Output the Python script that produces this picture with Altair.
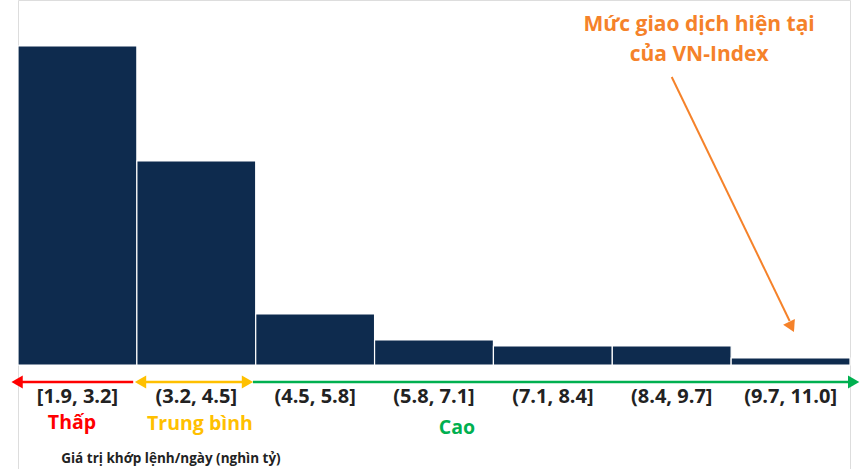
import altair as alt
import pandas as pd

# ---- data ----
bin_edges = [1.9, 3.2, 4.5, 5.8, 7.1, 8.4, 9.7, 11.0]
bin_labels = ["[1.9, 3.2]", "(3.2, 4.5]", "(4.5, 5.8]", "(5.8, 7.1]",
              "(7.1, 8.4]", "(8.4, 9.7]", "(9.7, 11.0]"]
bin_values = [319, 204, 51, 25, 19, 19, 7]

group_names = ["Thấp", "Trung bình", "Cao"]
group_colors = ["#ff0000", "#ffc000", "#00b050"]
group_x = [2.49, 3.89, 6.70]

annotation_lines = ["Mức giao dịch hiện tại", "của VN-Index"]
axis_title = "Giá trị khớp lệnh/ngày (nghìn tỷ)"

FONT = "Open Sans"
BAR_COLOR = "#0e2b4e"
ORANGE = "#f5822a"

xs = alt.Scale(domain=[1.9, 11.0], nice=False, zero=False)
ys = alt.Scale(domain=[-104, 365], nice=False, zero=False)

bars_df = pd.DataFrame({
    "x": bin_edges[:-1], "x2": bin_edges[1:], "v": bin_values, "label": bin_labels,
})
bars_df["mid"] = (bars_df["x"] + bars_df["x2"]) / 2
bars_df["zero"] = 0

bars = alt.Chart(bars_df).mark_rect(color=BAR_COLOR, stroke="white", strokeWidth=1.2).encode(
    x=alt.X("x:Q", scale=xs, axis=None), x2="x2:Q",
    y=alt.Y("v:Q", scale=ys, axis=None), y2="zero:Q",
)

labels = alt.Chart(bars_df).mark_text(
    font=FONT, fontSize=20, fontWeight="bold", color="#222222", baseline="middle"
).encode(
    x=alt.X("mid:Q", scale=xs), y=alt.datum(-32, scale=ys), text="label:N"
)

# arrows under the axis
shafts_df = pd.DataFrame({
    "x": [1.90, 3.26, 4.47], "x2": [3.16, 4.39, 11.03],
    "c": group_colors,
})
shafts = alt.Chart(shafts_df).mark_rule(strokeWidth=2.5).encode(
    x=alt.X("x:Q", scale=xs), x2="x2:Q",
    y=alt.datum(-17, scale=ys),
    color=alt.Color("c:N", scale=None),
)
heads_df = pd.DataFrame({
    "x": [1.89, 3.24, 4.41, 11.04],
    "shape": ["triangle-left", "triangle-left", "triangle-right", "triangle-right"],
    "c": [group_colors[0], group_colors[1], group_colors[1], group_colors[2]],
})
heads = alt.Chart(heads_df).mark_point(filled=True, size=170, opacity=1).encode(
    x=alt.X("x:Q", scale=xs), y=alt.datum(-17, scale=ys),
    shape=alt.Shape("shape:N", scale=None),
    color=alt.Color("c:N", scale=None),
)

groups_df = pd.DataFrame({"name": group_names, "c": group_colors, "x": group_x,
                          "y": [-58, -59, -63]})
groups = alt.Chart(groups_df).mark_text(
    font=FONT, fontSize=19.5, fontWeight="bold", baseline="middle"
).encode(
    x=alt.X("x:Q", scale=xs), y=alt.Y("y:Q", scale=ys), text="name:N",
    color=alt.Color("c:N", scale=None),
)

title = alt.Chart(pd.DataFrame({"t": [axis_title]})).mark_text(
    font=FONT, fontSize=13.5, fontWeight="bold", color="#222222", baseline="middle"
).encode(x=alt.datum(3.573, scale=xs), y=alt.datum(-94, scale=ys), text="t:N")

# annotation
ann_df = pd.DataFrame({"t": annotation_lines, "y": [340, 310]})
ann = alt.Chart(ann_df).mark_text(
    font=FONT, fontSize=21, fontWeight="bold", color=ORANGE, baseline="middle"
).encode(x=alt.datum(9.35, scale=xs), y=alt.Y("y:Q", scale=ys), text="t:N")

ann_line = alt.Chart(pd.DataFrame({"x": [9.05], "x2": [10.34], "y": [288], "y2": [44]})).mark_rule(
    color=ORANGE, strokeWidth=2
).encode(x=alt.X("x:Q", scale=xs), x2="x2:Q", y=alt.Y("y:Q", scale=ys), y2="y2:Q")

ann_head = alt.Chart(pd.DataFrame({"x": [10.36], "y": [38]})).mark_point(
    filled=True, size=170, opacity=1, color=ORANGE, shape="triangle-down", angle=334
).encode(x=alt.X("x:Q", scale=xs), y=alt.Y("y:Q", scale=ys))

chart = alt.layer(bars, labels, shafts, heads, groups, title, ann_line, ann_head, ann).properties(
    width=832, height=469,
    autosize=alt.AutoSizeParams(type="none"),
    padding={"left": 18, "right": 13, "top": 0, "bottom": 0},
).configure_view(stroke=None).configure(background="white")

chart.save("out.html", embed_options={"renderer": "svg", "actions": False})
